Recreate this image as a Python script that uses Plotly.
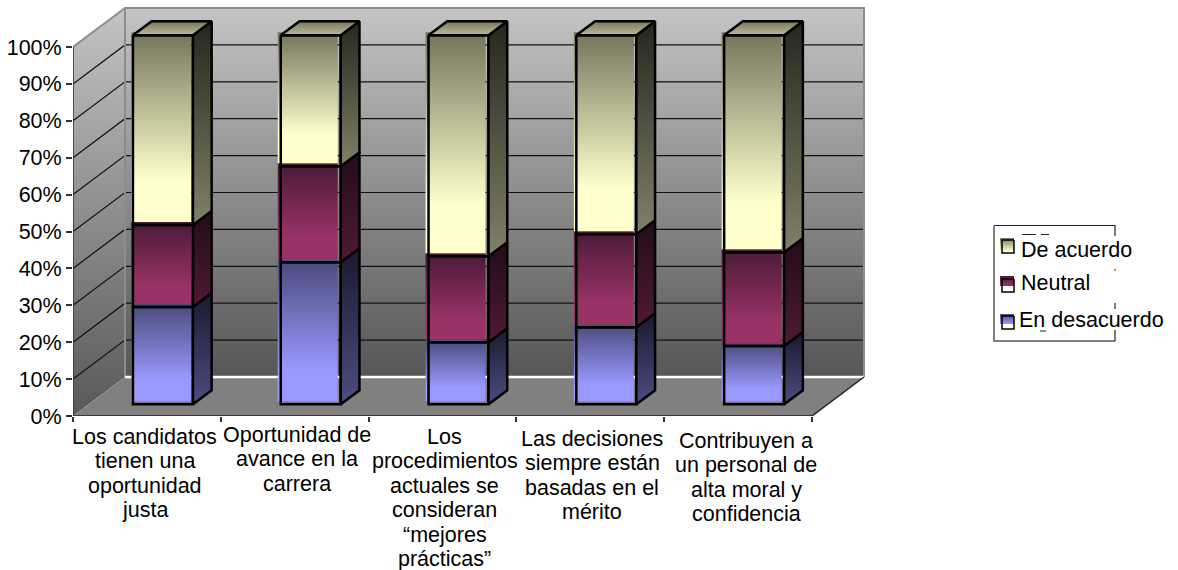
import plotly.graph_objects as go

# Question labels, one entry per text line
categories = [
    ["Los candidatos", "tienen una", "oportunidad", "justa"],
    ["Oportunidad de", "avance en la", "carrera"],
    ["Los", "procedimientos", "actuales se", "consideran", "“mejores", "prácticas”"],
    ["Las decisiones", "siempre están", "basadas en el", "mérito"],
    ["Contribuyen a", "un personal de", "alta moral y", "confidencia"],
]
en_desacuerdo = [26.4, 38.5, 16.8, 20.9, 15.8]
neutral = [22.2, 26.0, 23.3, 25.2, 25.4]
de_acuerdo = [51.4, 35.5, 59.9, 53.9, 58.8]
y_ticks = [0, 10, 20, 30, 40, 50, 60, 70, 80, 90, 100]
y_tick_text = [f"{v}%" for v in y_ticks]

# Canvas layout: plot area starts at the front axis corner
FONT = "Liberation Sans, Arial, sans-serif"
FONT_SIZE = 21.5
W, H = 1178, 570
LEFT, BASE = 73, 416
CAT_PX, PCT_PX = 147.8, 3.69
plot_w, plot_h = W - LEFT, BASE
DX = 52 / CAT_PX   # horizontal shift of the full chart depth, in category units
DY = 39 / PCT_PX   # vertical shift of the full chart depth, in percent units

BAR_LEFT, BAR_W = 0.30, 60 / CAT_PX
D_FRONT, D_BACK = 0.30, 0.66


def project(c, v, d=0.0):
    """Oblique projection of (category position, percent, depth) onto the axes."""
    return c + d * DX, v + d * DY


def poly(points):
    xs, ys = zip(*[project(*p) for p in points])
    return list(xs) + [xs[0]], list(ys) + [ys[0]]


def gradient(top, bottom, plateau=0.0):
    # Colour stops run from the low end of the axis to the high end
    return dict(type="vertical", colorscale=[[0, bottom], [plateau, bottom], [1, top]])


def px_x(px):
    return (px - LEFT) / CAT_PX


def px_y(py):
    return (BASE - py) / PCT_PX


fig = go.Figure()


def add_fill(xs, ys, grad=None, color=None, line=None, width=0):
    kw = dict(fillgradient=grad) if grad else dict(fillcolor=color)
    fig.add_trace(go.Scatter(
        x=xs, y=ys, mode="lines", fill="toself",
        line=dict(color=line or "rgba(0,0,0,0)", width=width),
        hoverinfo="skip", showlegend=False, **kw))


def add_line(xs, ys, color, width):
    fig.add_trace(go.Scatter(x=xs, y=ys, mode="lines", line=dict(color=color, width=width),
                             hoverinfo="skip", showlegend=False))


# Walls and floor of the chart box
x_end = len(categories)
wall = gradient("#c4c4c4", "#565656")
add_fill(*poly([(0, 100, 1), (x_end, 100, 1), (x_end, 0, 1), (0, 0, 1)]), grad=wall)
add_fill(*poly([(0, 100, 0), (0, 100, 1), (0, 0, 1), (0, 0, 0)]), grad=gradient("#c4c4c4", "#585858"))
add_fill(*poly([(0, 0, 0), (0, 0, 1), (x_end, 0, 1), (x_end, 0, 0)]), color="#808080")

# Gridlines across the back wall and down the side wall
for v in y_ticks[1:-1]:
    xs, ys = zip(*[project(0, v, 0), project(0, v, 1), project(x_end, v, 1)])
    add_line(list(xs), list(ys), "#111111", 1.2)

# Box edges
xs, ys = zip(*[project(0, 0, 1), project(0, 100, 1), project(x_end, 100, 1), project(x_end, 0, 1)])
add_line(list(xs), list(ys), "#8c8c8c", 2)
xs, ys = zip(*[project(0, 100, 0), project(0, 100, 1)])
add_line(list(xs), list(ys), "#8c8c8c", 2)
xs, ys = zip(*[project(0, 0, 1), project(x_end, 0, 1)])
add_line(list(xs), list(ys), "#ffffff", 2.5)
xs, ys = zip(*[project(x_end, 0, 0), project(x_end, 0, 1)])
add_line(list(xs), list(ys), "#222222", 1.5)
add_line([0, 0], [0, 100], "#333333", 1.5)
add_line([0, x_end], [0, 0], "#222222", 1.5)

# Stacked series, bottom to top, with front and side shading
series = [
    (en_desacuerdo, "#4a4a7c", "#9999ff", "#191930", "#4d4d80"),
    (neutral, "#4b1a37", "#993366", "#220c1a", "#4f1a34"),
    (de_acuerdo, "#74745c", "#ffffcc", "#26261c", "#80806a"),
]
fill_shift = [-1.5, -3, -3, -2.5, -2.5]  # print offset of the front fill behind its outline, px

for i in range(len(categories)):
    left = i + BAR_LEFT
    right = left + BAR_W
    base = 0.0
    for values, f_top, f_bot, s_top, s_bot in series:
        top = base + values[i]
        sx = fill_shift[i] / CAT_PX
        sy = 3 / PCT_PX
        # Front face fill sits slightly up and left of its outline
        add_fill(*poly([(left + sx, top + sy, D_FRONT), (right + sx, top + sy, D_FRONT),
                        (right + sx, base + sy, D_FRONT), (left + sx, base + sy, D_FRONT)]),
                 grad=gradient(f_top, f_bot, 0.22))
        add_line(*poly([(left, top, D_FRONT), (right, top, D_FRONT),
                        (right, base, D_FRONT), (left, base, D_FRONT)]), "#000000", 2.5)
        add_fill(*poly([(right, base, D_FRONT), (right, top, D_FRONT),
                        (right, top, D_BACK), (right, base, D_BACK)]),
                 grad=gradient(s_top, s_bot), line="#000000", width=2.5)
        base = top
    add_fill(*poly([(left, base, D_FRONT), (right, base, D_FRONT),
                    (right, base, D_BACK), (left, base, D_BACK)]),
             grad=gradient("#77775e", "#bcbc95"), line="#000000", width=2.5)

# Legend box: gray left edge, dark top and bottom, broken right edge
add_line([px_x(994), px_x(994), px_x(1115)], [px_y(226), px_y(341), px_y(341)], "#808080", 2)
add_line([px_x(994), px_x(1115), px_x(1115)], [px_y(225.5), px_y(225.5), px_y(236)], "#222222", 1.2)
for y0, y1 in [(269, 270.5), (303, 309), (330, 341)]:
    add_line([px_x(1115), px_x(1115)], [px_y(y0), px_y(y1)], "#222222", 1.2)
for x0, x1 in [(1022, 1036), (1041, 1049)]:
    add_line([px_x(x0), px_x(x1)], [px_y(234.5), px_y(234.5)], "#222222", 1)
add_line([px_x(1040), px_x(1046)], [px_y(331), px_y(331)], "#222222", 1)

legend_entries = [
    ("De acuerdo", "#74745c", "#ffffcc", 238, 251, 240, 253, 1019, 250),
    ("Neutral", "#4b1a37", "#993366", 276, 286, 279, 292, 1019, 283),
    ("En desacuerdo", "#4a4a7c", "#9999ff", 314, 324, 316, 329, 1017, 320),
]
annotations = []
for name, c_top, c_bot, y0, y1, by0, by1, tx, ty in legend_entries:
    add_fill([px_x(1000), px_x(1014), px_x(1014), px_x(1000), px_x(1000)],
             [px_y(y0), px_y(y0), px_y(y1), px_y(y1), px_y(y0)], grad=gradient(c_top, c_bot))
    add_line([px_x(1014), px_x(1002), px_x(1002), px_x(1014), px_x(1014)],
             [px_y(by0), px_y(by0), px_y(by1), px_y(by1), px_y(by0)], "#000000", 1.5)
    annotations.append(dict(text=name, xref="paper", yref="paper",
                            x=(tx - LEFT) / plot_w, y=(BASE - ty) / plot_h,
                            xanchor="left", yanchor="middle", showarrow=False,
                            font=dict(family=FONT, size=FONT_SIZE, color="#000000")))

# Category captions, drawn line by line for the tight leading
label_shift = [-2, 2, 2, 2, 8]
label_first = [437, 435, 437, 439, 441]
LEADING = 24.4
for i, lines in enumerate(categories):
    for j, text in enumerate(lines):
        annotations.append(dict(text=text, xref="x", yref="paper", x=i + 0.5, xshift=label_shift[i],
                                y=(BASE - (label_first[i] + j * LEADING)) / plot_h,
                                xanchor="center", yanchor="middle", showarrow=False,
                                font=dict(family=FONT, size=FONT_SIZE, color="#000000")))

fig.update_layout(
    width=W, height=H, margin=dict(l=LEFT, r=0, t=0, b=H - BASE, pad=0),
    paper_bgcolor="#ffffff", plot_bgcolor="rgba(0,0,0,0)", showlegend=False,
    annotations=annotations,
    xaxis=dict(range=[0, plot_w / CAT_PX], tickvals=list(range(x_end + 1)), showticklabels=False,
               ticks="outside", ticklen=5, tickwidth=1.5, tickcolor="#333333",
               showgrid=False, zeroline=False, showline=False),
    yaxis=dict(range=[0, plot_h / PCT_PX], tickvals=y_ticks, ticktext=y_tick_text,
               ticks="outside", ticklen=6, tickwidth=1.5, tickcolor="#333333",
               tickfont=dict(family=FONT, size=FONT_SIZE, color="#000000"),
               showgrid=False, zeroline=False, showline=False),
)

fig.write_html("out.html", config=dict(displayModeBar=False))
